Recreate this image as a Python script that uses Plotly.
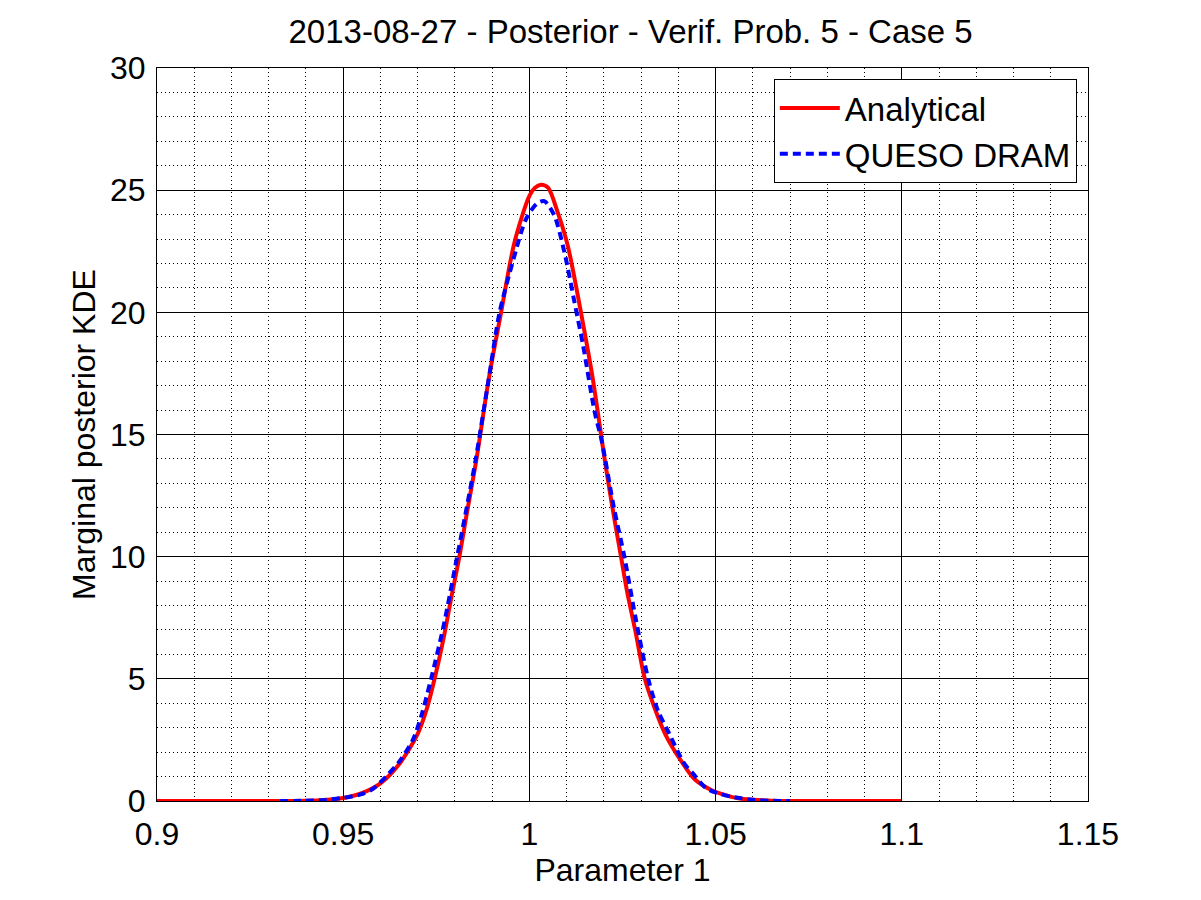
import plotly.graph_objects as go

# ---- data ----
analytical_x = [0.90, 0.92, 0.94, 0.945, 0.95, 0.955, 0.96, 0.965, 0.97,
                0.9725, 0.975, 0.977, 0.979, 0.9812, 0.983, 0.9858, 0.989, 0.9924, 0.996,
                1.0, 1.0015, 1.0031, 1.005, 1.0076, 1.0103, 1.0139, 1.017, 1.0202, 1.0223,
                1.0246, 1.0262, 1.0284, 1.031, 1.0335, 1.0366, 1.0407, 1.0443, 1.0488, 1.052,
                1.056, 1.06, 1.065, 1.07, 1.1]
analytical_y = [0.0, 0.0, 0.01, 0.04, 0.12, 0.32, 0.72, 1.5, 2.75,
                3.8, 5.3, 6.7, 8.3, 10.0, 11.6, 14.0, 17.2, 20.0, 22.87,
                24.77, 25.1, 25.22, 25.1, 24.09, 22.73, 19.95, 17.3, 14.0, 12.0,
                10.0, 8.6, 7.0, 5.0, 3.86, 2.7, 1.65, 0.9, 0.45, 0.27,
                0.11, 0.05, 0.01, 0.0, 0.0]

queso_x = [0.933, 0.94, 0.945, 0.95, 0.9547, 0.958, 0.9615, 0.965, 0.9687, 0.971,
           0.9736, 0.977, 0.9806, 0.9834, 0.9856, 0.989, 0.992, 0.9955, 0.9991, 1.002,
           1.004, 1.0067, 1.0094, 1.0121, 1.0144, 1.0175, 1.0194, 1.0227, 1.0255, 1.0285,
           1.0319, 1.0345, 1.0375, 1.0416, 1.0439, 1.0475, 1.0515, 1.0551, 1.06, 1.065, 1.07]
queso_y = [0.0, 0.01, 0.04, 0.13, 0.27, 0.5, 1.0, 1.6, 2.5, 3.5,
           5.0, 7.2, 10.0, 12.2, 14.0, 17.2, 20.0, 22.05, 23.82, 24.45,
           24.55, 23.96, 22.46, 20.42, 18.66, 15.94, 14.75, 12.0, 10.0, 7.5,
           5.0, 3.7, 2.77, 1.53, 1.13, 0.52, 0.28, 0.15, 0.05, 0.01, 0.0]

x_ticks = [0.9, 0.95, 1.0, 1.05, 1.1, 1.15]
x_ticktext = ["0.9", "0.95", "1", "1.05", "1.1", "1.15"]
y_ticks = [0, 5, 10, 15, 20, 25, 30]

TITLE = "2013-08-27 - Posterior - Verif. Prob. 5 - Case 5"
FONT = "Liberation Sans, Arial, Helvetica, sans-serif"

fig = go.Figure()
fig.add_trace(go.Scatter(
    x=analytical_x, y=analytical_y,
    mode="lines", name="Analytical",
    line=dict(color="#ff0000", width=4, shape="spline", smoothing=0.8),
))
fig.add_trace(go.Scatter(
    x=queso_x, y=queso_y,
    mode="lines", name="QUESO DRAM",
    line=dict(color="#0000ff", width=4, dash="8px,5px", shape="spline", smoothing=0.8),
))

axis_common = dict(
    showline=True, mirror=True, linecolor="black", linewidth=1,
    showgrid=True, gridcolor="black", gridwidth=1,
    ticks="inside", ticklen=8, tickcolor="black",
    zeroline=False,
    tickfont=dict(family=FONT, size=32, color="black"),
)

# page body has an 8px margin, so margins are shifted by 8px
fig.update_layout(
    width=1201, height=900,
    paper_bgcolor="white", plot_bgcolor="white",
    margin=dict(l=149, r=121, t=60, b=107),
    font=dict(family=FONT, size=32, color="black"),
    title=dict(text=TITLE, x=0.5184, xanchor="center", y=1 - 23 / 900,
               yanchor="middle", font=dict(size=33)),
    xaxis=dict(
        range=[0.9, 1.15], tickvals=x_ticks, ticktext=x_ticktext,
        ticklabelstandoff=5,
        title=dict(text="Parameter 1", standoff=6, font=dict(size=32)),
        minor=dict(dtick=0.01, showgrid=True, gridcolor="black", gridwidth=1,
                   griddash="1px,3px", ticks=""),
        **axis_common,
    ),
    yaxis=dict(
        range=[0, 30], tickvals=y_ticks,
        ticklabelstandoff=4,
        title=dict(text="Marginal posterior KDE", standoff=4, font=dict(size=32)),
        minor=dict(dtick=1, showgrid=True, gridcolor="black", gridwidth=1,
                   griddash="1px,3px", ticks=""),
        **axis_common,
    ),
    legend=dict(
        x=0.988, y=0.985, xanchor="right", yanchor="top",
        bgcolor="white", bordercolor="black", borderwidth=1,
        font=dict(size=33), itemwidth=60, entrywidth=300,
    ),
)

fig.write_html("out.html")
